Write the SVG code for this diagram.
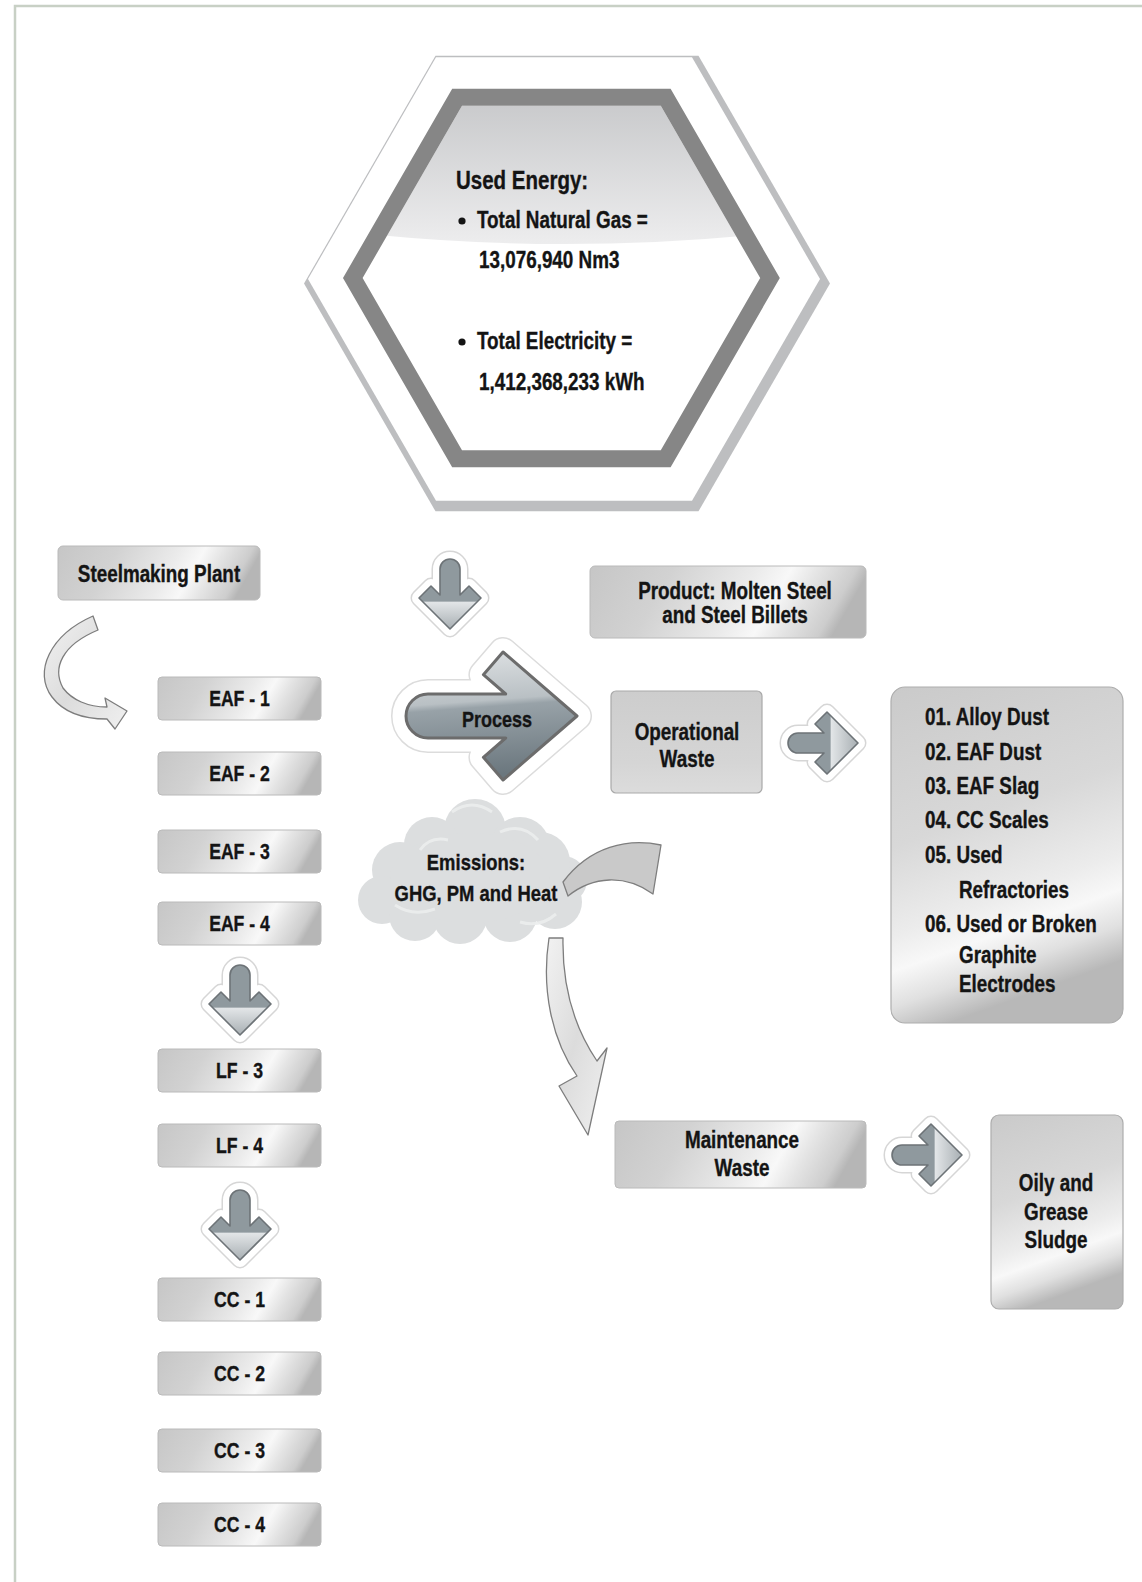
<svg xmlns="http://www.w3.org/2000/svg" width="1142" height="1582" viewBox="0 0 1142 1582">
  <style>
    text { font-family: "Liberation Sans", Arial, sans-serif; font-weight: bold; fill: #141414; stroke: #141414; stroke-width: 0.35; }
    .lbl { font-size: 21.5px; text-anchor: middle; }
    .mid { font-size: 23px; text-anchor: middle; }
    .lst { font-size: 23px; }
    .hx { font-size: 23px; }
    .box { fill: url(#gWide); stroke: #bababa; stroke-width: 1; }
    .tall { fill: url(#gTall); stroke: #adadad; stroke-width: 1.2; }
    .halo1 { fill: none; stroke: #d6d6d6; stroke-width: 17; stroke-linejoin: round; }
    .halo2 { fill: none; stroke: #ffffff; stroke-width: 14; stroke-linejoin: round; }
    .abody { fill: url(#gArrow); stroke: #6d7377; stroke-width: 1.6; stroke-linejoin: round; }
    .marble { fill: url(#gMarble); stroke: #7d7d7d; stroke-width: 1.3; stroke-linejoin: round; }
  </style>
  <defs>
    <linearGradient id="gWide" x1="0" y1="0" x2="1" y2="0.15">
      <stop offset="0" stop-color="#c6c6c6"/>
      <stop offset="0.3" stop-color="#d2d2d2"/>
      <stop offset="0.6" stop-color="#ebebeb"/>
      <stop offset="0.72" stop-color="#f8f8f8"/>
      <stop offset="0.82" stop-color="#e4e4e4"/>
      <stop offset="0.95" stop-color="#cdcdcd"/>
      <stop offset="1" stop-color="#b6b6b6"/>
    </linearGradient>
    <linearGradient id="gTall" x1="0" y1="0" x2="0.25" y2="1">
      <stop offset="0" stop-color="#cacaca"/>
      <stop offset="0.45" stop-color="#d8d8d8"/>
      <stop offset="0.7" stop-color="#ececec"/>
      <stop offset="0.8" stop-color="#f8f8f8"/>
      <stop offset="0.9" stop-color="#e0e0e0"/>
      <stop offset="1" stop-color="#b8b8b8"/>
    </linearGradient>
    <linearGradient id="gFlat" x1="0" y1="0" x2="0" y2="1">
      <stop offset="0" stop-color="#cdcdcd"/>
      <stop offset="0.7" stop-color="#d5d5d5"/>
      <stop offset="1" stop-color="#dcdcdc"/>
    </linearGradient>
    <linearGradient id="gArrow" x1="0" y1="0" x2="0" y2="1">
      <stop offset="0" stop-color="#8f999e"/>
      <stop offset="0.6" stop-color="#8f999e"/>
      <stop offset="0.62" stop-color="#e2e5e7"/>
      <stop offset="1" stop-color="#a8afb3"/>
    </linearGradient>
    <linearGradient id="gProc" x1="0" y1="0" x2="0.1" y2="1">
      <stop offset="0" stop-color="#e0e3e5"/>
      <stop offset="0.42" stop-color="#b9c0c4"/>
      <stop offset="0.47" stop-color="#98a2a8"/>
      <stop offset="1" stop-color="#6b777e"/>
    </linearGradient>
    <linearGradient id="gCap" x1="0" y1="0" x2="0" y2="1">
      <stop offset="0" stop-color="#c6c7c9"/>
      <stop offset="1" stop-color="#ededee"/>
    </linearGradient>
    <linearGradient id="gMarble" x1="0" y1="0" x2="1" y2="1">
      <stop offset="0" stop-color="#f2f2f2"/>
      <stop offset="0.5" stop-color="#dcdcdc"/>
      <stop offset="1" stop-color="#f0f0f0"/>
    </linearGradient>
    <clipPath id="hexIn">
      <polygon points="362.6,278 462,105.8 660.8,105.8 760.2,278 660.8,450.2 462,450.2"/>
    </clipPath>
    <!-- glossy block arrow pointing down, centred on the origin -->
    <path id="dnArrow" d="M -10,-25 A 10,10 0 0 1 10,-25 L 10,1 L 19,-8 L 31,4 L 0,35 L -31,4 L -19,-8 L -10,1 Z"/>
  </defs>

  <!-- page frame -->
  <path d="M15,1582 V6 H1142" fill="none" stroke="#c8d0c5" stroke-width="2.5"/>

  <!-- energy hexagon -->
  <g id="energy">
    <polygon points="304,283.5 435.5,55.7 698.5,55.7 830,283.5 698.5,511.3 435.5,511.3" fill="#bdbec0"/>
    <polygon points="308,279 436,57.3 692,57.3 820,279 692,500.7 436,500.7" fill="#ffffff"/>
    <polygon points="362.6,278 462,105.8 660.8,105.8 760.2,278 660.8,450.2 462,450.2" fill="#ffffff"/>
    <path d="M300,90 H830 V226 Q565,262 300,226 Z" fill="url(#gCap)" clip-path="url(#hexIn)"/>
    <polygon points="352.8,278 457.1,97.35 665.7,97.35 770,278 665.7,458.65 457.1,458.65" fill="none" stroke="#868686" stroke-width="17"/>
    <text transform="translate(456,189) scale(0.82,1)" style="font-size:25px">Used Energy:</text>
    <circle cx="462" cy="221" r="3.6" fill="#141414"/>
    <text class="hx" transform="translate(477,228) scale(0.82,1)">Total Natural Gas =</text>
    <text class="hx" transform="translate(479,268) scale(0.82,1)">13,076,940 Nm3</text>
    <circle cx="462" cy="342" r="3.6" fill="#141414"/>
    <text class="hx" transform="translate(477,349) scale(0.82,1)">Total Electricity =</text>
    <text class="hx" transform="translate(479,389.5) scale(0.82,1)">1,412,368,233 kWh</text>
  </g>

  <!-- plant and equipment column -->
  <g id="plant">
    <rect class="box" x="58" y="546" width="202" height="54" rx="5"/>
    <text class="mid" transform="translate(159,582) scale(0.82,1)">Steelmaking Plant</text>
  </g>
  <g id="eaf1"><rect class="box" x="158" y="677" width="163" height="43" rx="4"/><text class="lbl" transform="translate(239.5,706) scale(0.82,1)">EAF - 1</text></g>
  <g id="eaf2"><rect class="box" x="158" y="752" width="163" height="43" rx="4"/><text class="lbl" transform="translate(239.5,781) scale(0.82,1)">EAF - 2</text></g>
  <g id="eaf3"><rect class="box" x="158" y="830" width="163" height="43" rx="4"/><text class="lbl" transform="translate(239.5,859) scale(0.82,1)">EAF - 3</text></g>
  <g id="eaf4"><rect class="box" x="158" y="902" width="163" height="43" rx="4"/><text class="lbl" transform="translate(239.5,931) scale(0.82,1)">EAF - 4</text></g>
  <g id="lf3"><rect class="box" x="158" y="1049" width="163" height="43" rx="4"/><text class="lbl" transform="translate(239.5,1078) scale(0.82,1)">LF - 3</text></g>
  <g id="lf4"><rect class="box" x="158" y="1124" width="163" height="43" rx="4"/><text class="lbl" transform="translate(239.5,1153) scale(0.82,1)">LF - 4</text></g>
  <g id="cc1"><rect class="box" x="158" y="1278" width="163" height="43" rx="4"/><text class="lbl" transform="translate(239.5,1307) scale(0.82,1)">CC - 1</text></g>
  <g id="cc2"><rect class="box" x="158" y="1352" width="163" height="43" rx="4"/><text class="lbl" transform="translate(239.5,1381) scale(0.82,1)">CC - 2</text></g>
  <g id="cc3"><rect class="box" x="158" y="1429" width="163" height="43" rx="4"/><text class="lbl" transform="translate(239.5,1458) scale(0.82,1)">CC - 3</text></g>
  <g id="cc4"><rect class="box" x="158" y="1503" width="163" height="43" rx="4"/><text class="lbl" transform="translate(239.5,1532) scale(0.82,1)">CC - 4</text></g>

  <!-- process arrow -->
  <g id="process">
    <path d="M 428,694 L 505.7,694 L 483.4,674.7 L 503,652 L 577,716 L 503,780 L 483.4,757.3 L 505.7,738 L 428,738 A 22,22 0 0 1 428,694 Z" fill="none" stroke="#dcdcdc" stroke-width="30" stroke-linejoin="round"/>
    <path d="M 428,694 L 505.7,694 L 483.4,674.7 L 503,652 L 577,716 L 503,780 L 483.4,757.3 L 505.7,738 L 428,738 A 22,22 0 0 1 428,694 Z" fill="none" stroke="#ffffff" stroke-width="27" stroke-linejoin="round"/>
    <path d="M 428,694 L 505.7,694 L 483.4,674.7 L 503,652 L 577,716 L 503,780 L 483.4,757.3 L 505.7,738 L 428,738 A 22,22 0 0 1 428,694 Z" fill="url(#gProc)" stroke="#6c6c6c" stroke-width="3" stroke-linejoin="round"/>
    <text class="mid" transform="translate(497,727) scale(0.82,1)" style="font-size:22px">Process</text>
  </g>

  <!-- outputs -->
  <g id="product">
    <rect class="box" x="590" y="566" width="276" height="72" rx="5"/>
    <text class="mid" transform="translate(735,599) scale(0.82,1)">Product: Molten Steel</text>
    <text class="mid" transform="translate(735,623) scale(0.82,1)">and Steel Billets</text>
  </g>
  <g id="operational">
    <rect x="611" y="691" width="151" height="102" rx="5" fill="url(#gFlat)" stroke="#a9a9a9" stroke-width="1.2"/>
    <text class="mid" transform="translate(687,740) scale(0.82,1)">Operational</text>
    <text class="mid" transform="translate(687,767) scale(0.82,1)">Waste</text>
  </g>
  <g id="wasteList">
    <rect class="tall" x="891" y="687" width="232" height="336" rx="14"/>
    <text class="lst" transform="translate(925,725) scale(0.82,1)">01. Alloy Dust</text>
    <text class="lst" transform="translate(925,760) scale(0.82,1)">02. EAF Dust</text>
    <text class="lst" transform="translate(925,794) scale(0.82,1)">03. EAF Slag</text>
    <text class="lst" transform="translate(925,828) scale(0.82,1)">04. CC Scales</text>
    <text class="lst" transform="translate(925,863) scale(0.82,1)">05. Used</text>
    <text class="lst" transform="translate(959,898) scale(0.82,1)">Refractories</text>
    <text class="lst" transform="translate(925,932) scale(0.82,1)">06. Used or Broken</text>
    <text class="lst" transform="translate(959,963) scale(0.82,1)">Graphite</text>
    <text class="lst" transform="translate(959,992) scale(0.82,1)">Electrodes</text>
  </g>

  <!-- emissions cloud -->
  <g id="emissions">
    <g fill="#dcdedf">
      <circle cx="475" cy="830" r="31"/>
      <circle cx="432" cy="845" r="28"/>
      <circle cx="520" cy="847" r="30"/>
      <circle cx="400" cy="870" r="28"/>
      <circle cx="382" cy="900" r="24"/>
      <circle cx="415" cy="915" r="26"/>
      <circle cx="460" cy="917" r="27"/>
      <circle cx="510" cy="915" r="27"/>
      <circle cx="555" cy="902" r="27"/>
      <circle cx="563" cy="880" r="24"/>
      <circle cx="540" cy="862" r="30"/>
      <ellipse cx="470" cy="878" rx="80" ry="45"/>
    </g>
    <g fill="none" stroke="#eceeee" stroke-width="3" opacity="0.9">
      <path d="M452,812 q20,-14 40,0"/>
      <path d="M500,832 q22,-10 38,8"/>
      <path d="M395,905 q18,12 40,4"/>
      <path d="M520,922 q20,6 36,-8"/>
      <path d="M420,850 q10,-14 28,-10"/>
    </g>
    <text class="mid" transform="translate(476,870) scale(0.82,1)" style="font-size:22.5px">Emissions:</text>
    <text class="mid" transform="translate(476,901) scale(0.82,1)" style="font-size:22.5px">GHG, PM and Heat</text>
  </g>

  <g id="maintenance">
    <rect class="box" x="615" y="1121" width="251" height="67" rx="4"/>
    <text class="mid" transform="translate(742,1148) scale(0.82,1)">Maintenance</text>
    <text class="mid" transform="translate(742,1176) scale(0.82,1)">Waste</text>
  </g>
  <g id="sludge">
    <rect class="tall" x="991" y="1115" width="132" height="194" rx="8"/>
    <text class="mid" transform="translate(1056,1191) scale(0.82,1)">Oily and</text>
    <text class="mid" transform="translate(1056,1220) scale(0.82,1)">Grease</text>
    <text class="mid" transform="translate(1056,1248) scale(0.82,1)">Sludge</text>
  </g>

  <!-- connectors -->
  <g id="connectors">
    <!-- plant to EAF-1 -->
    <path class="marble" d="M 93,616 C 50,635 33,672 52,697 C 64,713 85,719 107,719 L 115,729 L 127,711 L 105,698 L 107,707 C 88,707 72,700 63,688 C 52,668 62,645 98,630 Z"/>
    <!-- energy into process -->
    <g transform="translate(450,594)">
      <use href="#dnArrow" class="halo1"/><use href="#dnArrow" class="halo2"/><use href="#dnArrow" class="abody"/>
    </g>
    <!-- EAF to LF -->
    <g transform="translate(240,1000)">
      <use href="#dnArrow" class="halo1"/><use href="#dnArrow" class="halo2"/><use href="#dnArrow" class="abody"/>
    </g>
    <!-- LF to CC -->
    <g transform="translate(240,1225)">
      <use href="#dnArrow" class="halo1"/><use href="#dnArrow" class="halo2"/><use href="#dnArrow" class="abody"/>
    </g>
    <!-- operational waste to list -->
    <g transform="translate(823,743) rotate(-90)">
      <use href="#dnArrow" class="halo1"/><use href="#dnArrow" class="halo2"/><use href="#dnArrow" class="abody"/>
    </g>
    <!-- maintenance waste to sludge -->
    <g transform="translate(927,1155) rotate(-90)">
      <use href="#dnArrow" class="halo1"/><use href="#dnArrow" class="halo2"/><use href="#dnArrow" class="abody"/>
    </g>
    <!-- emissions release -->
    <path d="M 563,882 C 590,846 628,838 661,845 L 653,894 C 625,874 593,876 568,896 Z" fill="#c9c9c9" stroke="#7e7e7e" stroke-width="1.3" stroke-linejoin="round"/>
    <!-- process to maintenance waste -->
    <path class="marble" d="M 549,938 C 541,990 552,1040 577,1076 L 559,1086 L 588,1135 L 607,1048 L 597,1061 C 576,1030 562,990 563,938 Z"/>
  </g>
</svg>
